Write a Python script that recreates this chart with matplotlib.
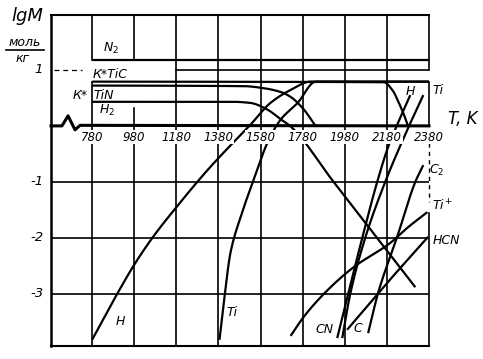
import matplotlib
matplotlib.use("Agg")
import matplotlib.pyplot as plt
from matplotlib.lines import Line2D
import numpy as np

# temperature grid and log-scale ticks
t_ticks = [780, 980, 1180, 1380, 1580, 1780, 1980, 2180, 2380]
lg_ticks = [1, -1, -2, -3]

# upper (condensed / main gas) species
n2_t = [780, 2380]
n2_lg = [1.17, 1.17]
tic_t = [780, 2165, 2208, 2237, 2261, 2280]
tic_lg = [0.79, 0.78, 0.63, 0.41, 0.20, 0.0]
tin_t = [780, 1500, 1600, 1680, 1722, 1784, 1841]
tin_lg = [0.72, 0.71, 0.67, 0.60, 0.52, 0.30, 0.0]
h2_t = [780, 1450, 1532, 1613, 1675, 1720, 1927, 2315]
h2_lg = [0.43, 0.43, 0.41, 0.29, 0.12, 0.0, -1.0, -2.88]

# rising species
h_t = [780, 899, 985, 1070, 1185, 1328, 1404, 1532, 1627, 1722, 1818, 2380]
h_lg = [-3.82, -3.0, -2.45, -1.98, -1.43, -0.79, -0.48, 0.02, 0.41, 0.64, 0.79, 0.79]
ti_t = [1385, 1409, 1437, 1485, 1542, 1613, 1675, 1756, 1842, 2380]
ti_lg = [-3.82, -3.05, -2.27, -1.63, -1.02, -0.30, 0.11, 0.41, 0.79, 0.79]
tip_t = [1723, 1785, 1899, 2023, 2196, 2277, 2372]
tip_lg = [-3.75, -3.41, -2.93, -2.52, -2.09, -1.82, -1.54]
hcn_t = [1991, 2182, 2376]
hcn_lg = [-3.64, -2.80, -1.98]
c2_t = [2091, 2137, 2229, 2315, 2353]
c2_lg = [-3.70, -3.0, -1.98, -1.0, -0.70]
cn_t = [1944, 1996, 2063, 2134, 2186, 2229, 2291]
cn_lg = [-3.79, -3.0, -2.0, -1.0, -0.375, 0.02, 0.55]
c_t = [1968, 2006, 2077, 2172, 2277, 2353]
c_lg = [-3.79, -3.0, -2.0, -1.0, -0.07, 0.55]

T0, T1 = 585, 2380
Y0, Y1 = -3.93, 1.98


def pchip(xs, ys, n=200):
    # monotone cubic through the read points, just for a smooth pen line
    x = np.asarray(xs, float)
    y = np.asarray(ys, float)
    if len(x) < 3:
        return x, y
    h = np.diff(x)
    d = np.diff(y) / h
    m = np.zeros_like(y)
    for i in range(1, len(x) - 1):
        if d[i - 1] * d[i] > 0:
            w1 = 2 * h[i] + h[i - 1]
            w2 = h[i] + 2 * h[i - 1]
            m[i] = (w1 + w2) / (w1 / d[i - 1] + w2 / d[i])
    m[0] = d[0]
    m[-1] = d[-1]
    xx = np.linspace(x[0], x[-1], n)
    idx = np.clip(np.searchsorted(x, xx) - 1, 0, len(x) - 2)
    t = (xx - x[idx]) / h[idx]
    h00 = 2 * t**3 - 3 * t**2 + 1
    h10 = t**3 - 2 * t**2 + t
    h01 = -2 * t**3 + 3 * t**2
    h11 = t**3 - t**2
    yy = h00 * y[idx] + h10 * h[idx] * m[idx] + h01 * y[idx + 1] + h11 * h[idx] * m[idx + 1]
    return xx, yy


fig = plt.figure(figsize=(4.83, 3.59), dpi=100)
ax = fig.add_axes([51 / 483, 1 - 346 / 359, 378 / 483, 331 / 359])
ax.set_xlim(T0, T1)
ax.set_ylim(Y0, Y1)
ax.axis("off")

k = "black"
glw = 1.2
clw = 1.6
fnt = dict(family="DejaVu Sans", style="italic")

# frame
ax.plot([T0, T0], [Y0, Y1], color=k, lw=1.8, clip_on=False)
ax.plot([T0, T1], [Y1, Y1], color=k, lw=1.5, clip_on=False)
ax.plot([T0, T1], [Y0, Y0], color=k, lw=1.5, clip_on=False)
ax.plot([T1, T1], [Y1, 1.0], color=k, lw=glw, clip_on=False)
ax.plot([T1, T1], [0.79, 0], color=k, lw=glw, clip_on=False)
ax.plot([T1, T1], [-0.3, -1.35], color=k, lw=1.0, ls=(0, (3, 3)), clip_on=False)
ax.plot([T1, T1], [-1.55, Y0], color=k, lw=glw, clip_on=False)

# zero line with a break
ax.plot([T0, 637, 666, 699, 723, T1], [0, 0, 0.18, -0.07, 0.01, 0], color=k, lw=2.2, clip_on=False)

# vertical grid
for t in t_ticks[:-1]:
    ax.plot([t, t], [0, Y0], color=k, lw=glw)
for t in t_ticks[2:-1]:
    ax.plot([t, t], [0, Y1], color=k, lw=glw)
ax.plot([780, 780], [Y1, 1.17], color=k, lw=glw)
ax.plot([780, 780], [0.79, 0], color=k, lw=glw)
ax.plot([980, 980], [Y1, 1.17], color=k, lw=glw)
ax.plot([980, 980], [0.32, 0], color=k, lw=glw)

# horizontal grid
for v in [-1, -2, -3]:
    ax.plot([T0, T1], [v, v], color=k, lw=glw)
ax.plot([1180, T1], [1, 1], color=k, lw=glw)
ax.plot([600, 730], [1, 1], color=k, lw=0.9, ls=(0, (4, 3)))

# curves
for xs, ys in [(n2_t, n2_lg), (tic_t, tic_lg), (tin_t, tin_lg), (h2_t, h2_lg),
               (h_t, h_lg), (ti_t, ti_lg), (tip_t, tip_lg), (hcn_t, hcn_lg),
               (c2_t, c2_lg), (cn_t, cn_lg), (c_t, c_lg)]:
    sx, sy = pchip(xs, ys)
    ax.plot(sx, sy, color=k, lw=clw, solid_capstyle="butt")

# tick labels
for t in t_ticks:
    ax.text(t, -0.2, str(t), ha="center", va="center", fontsize=8.5, zorder=5,
            bbox=dict(facecolor="white", edgecolor="none", pad=0.5), **fnt)
for v in lg_ticks:
    lab = str(v) if v > 0 else "-" + str(-v)
    ax.text(548, v, lab, ha="right", va="center", fontsize=9.5, clip_on=False, **fnt)

# species labels
sp = 9
ax.text(830, 1.39, "N$_2$", ha="left", va="center", fontsize=sp, **fnt)
ax.text(785, 0.91, "К*TiC", ha="left", va="center", fontsize=sp, **fnt)
ax.text(690, 0.54, "К*", ha="left", va="center", fontsize=sp, **fnt)
ax.text(785, 0.54, "TiN", ha="left", va="center", fontsize=sp, **fnt)
ax.text(815, 0.27, "H$_2$", ha="left", va="center", fontsize=sp, **fnt)
ax.text(890, -3.5, "H", ha="left", va="center", fontsize=sp, **fnt)
ax.text(1420, -3.34, "Ti", ha="left", va="center", fontsize=sp, **fnt)
ax.text(1840, -3.63, "CN", ha="left", va="center", fontsize=sp, **fnt)
ax.text(2020, -3.61, "C", ha="left", va="center", fontsize=sp, **fnt)
ax.text(2268, 0.62, "H", ha="left", va="center", fontsize=sp, **fnt)
ax.text(2395, 0.64, "Ti", ha="left", va="center", fontsize=sp, clip_on=False, **fnt)
ax.text(2380, -0.80, "C$_2$", ha="left", va="center", fontsize=sp, clip_on=False, **fnt)
ax.text(2395, -1.43, "Ti$^+$", ha="left", va="center", fontsize=sp, clip_on=False, **fnt)
ax.text(2395, -2.05, "HCN", ha="left", va="center", fontsize=sp, clip_on=False, **fnt)
ax.text(2470, 0.12, "T, K", ha="left", va="center", fontsize=12, clip_on=False, **fnt)

# y-axis title
fig.text(27 / 483, 1 - 16 / 359, "lgM", ha="center", va="center", fontsize=13, **fnt)
fig.text(25 / 483, 1 - 43 / 359, "моль", ha="center", va="center", fontsize=9, **fnt)
fig.add_artist(Line2D([6 / 483, 44 / 483], [1 - 50 / 359, 1 - 50 / 359], color=k, lw=1.2))
fig.text(23 / 483, 1 - 58 / 359, "кг", ha="center", va="center", fontsize=9, **fnt)

fig.savefig("out.png", dpi=100, facecolor="white")
